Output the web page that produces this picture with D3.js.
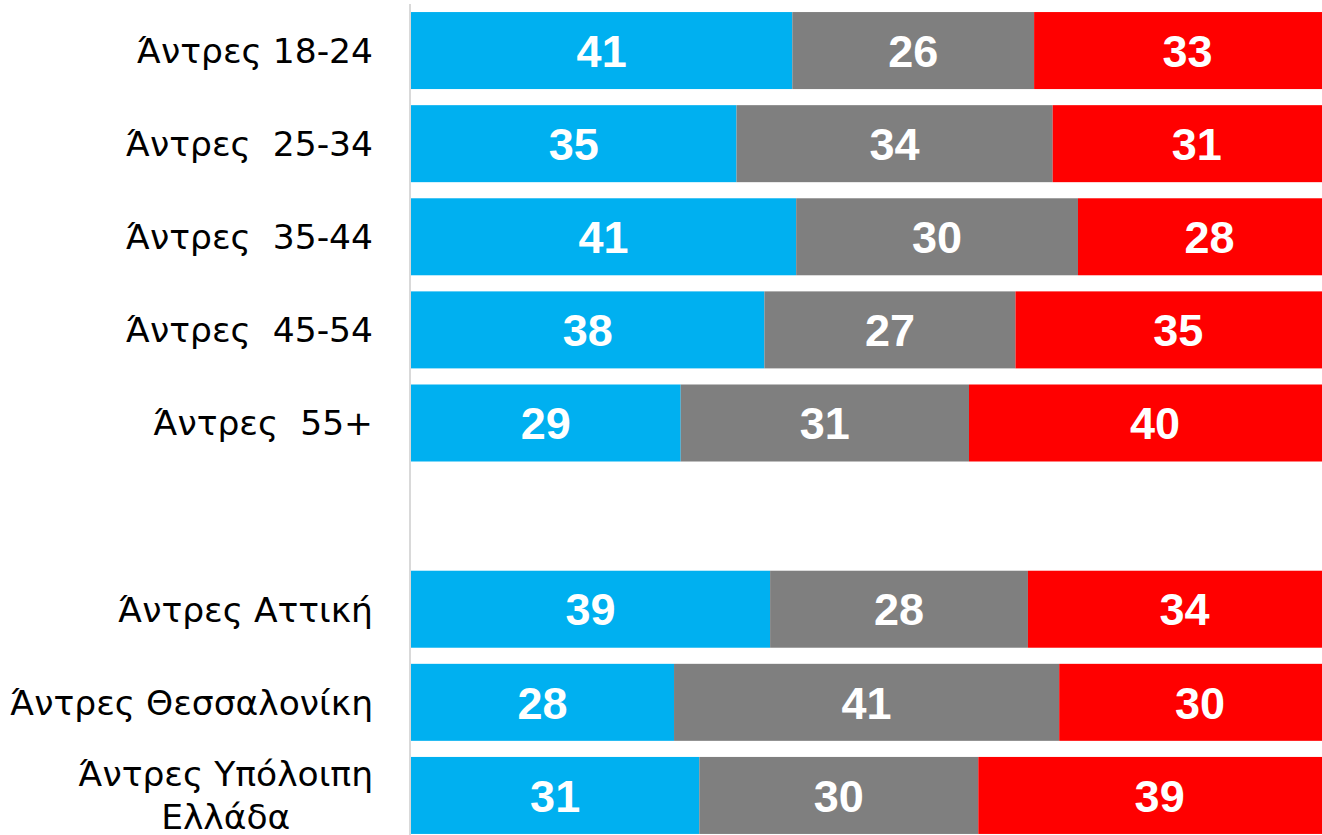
<!DOCTYPE html>
<html>
<head>
<meta charset="utf-8">
<script src="https://cdn.jsdelivr.net/npm/d3@7/dist/d3.min.js"></script>
<style>
  html, body { margin: 0; padding: 0; background: #fff; overflow: hidden; }
  svg { display: block; }
</style>
</head>
<body>
<script>
// ---- data ----
const categories = [
  "Άντρες 18-24",
  "Άντρες  25-34",
  "Άντρες  35-44",
  "Άντρες  45-54",
  "Άντρες  55+",
  "",
  "Άντρες Αττική",
  "Άντρες Θεσσαλονίκη",
  "Άντρες Υπόλοιπη\nΕλλάδα"
];
const seriesBlue = [41, 35, 41, 38, 29, null, 39, 28, 31];
const seriesGray = [26, 34, 30, 27, 31, null, 28, 41, 30];
const seriesRed  = [33, 31, 28, 35, 40, null, 34, 30, 39];
const seriesColors = ["#00B0F0", "#7F7F7F", "#FF0000"];

// ---- layout ----
const W = 1322, H = 835;
const svg = d3.select("body").append("svg").attr("width", W).attr("height", H);

const x = d3.scaleLinear().domain([0, 100]).range([411, 1341]);
const y = d3.scaleBand().domain(d3.range(categories.length))
  .range([4, 842]).paddingInner(0.173).paddingOuter(0.0865);

// build stacked, normalized (100% stacked) rows
const rows = categories.map((c, i) => {
  const vals = [seriesBlue[i], seriesGray[i], seriesRed[i]];
  if (vals[0] == null) return { i, segs: [] };
  const sum = d3.sum(vals);
  let acc = 0;
  const segs = vals.map((v, k) => {
    const s = { k, v, x0: acc / sum * 100, x1: (acc + v) / sum * 100 };
    acc += v;
    return s;
  });
  return { i, segs };
});

const g = svg.append("g");
const rowG = g.selectAll("g.row").data(rows).join("g").attr("class", "row");

rowG.selectAll("rect").data(d => d.segs.map(s => ({ ...s, i: d.i })))
  .join("rect")
  .attr("x", d => x(d.x0))
  .attr("width", d => x(d.x1) - x(d.x0))
  .attr("y", d => y(d.i))
  .attr("height", y.bandwidth())
  .attr("fill", d => seriesColors[d.k]);

rowG.selectAll("text.val").data(d => d.segs.map(s => ({ ...s, i: d.i })))
  .join("text")
  .attr("class", "val")
  .attr("x", d => (x(d.x0) + x(d.x1)) / 2)
  .attr("y", d => y(d.i) + y.bandwidth() / 2)
  .attr("dy", "0.36em")
  .attr("text-anchor", "middle")
  .attr("fill", "#fff")
  .style("font-family", "'Liberation Sans', Arial, sans-serif")
  .style("font-weight", "bold")
  .style("font-size", "45px")
  .text(d => d.v);

// axis line
const yAxis = d3.axisLeft(y).tickSize(0).tickFormat("");
const ax = svg.append("g").attr("transform", "translate(410,0)").call(yAxis);
ax.select(".domain").attr("stroke", "#D9D9D9").attr("stroke-width", 2)
  .attr("d", `M0,${4}V${H}`);

// category labels
const lab = svg.append("g");
categories.forEach((c, i) => {
  if (!c) return;
  const lines = c.split("\n");
  const cy = y(i) + y.bandwidth() / 2;
  const lh = 43;
  const t = lab.append("text")
    .attr("y", cy)
    .attr("fill", "#000")
    .style("font-family", "'DejaVu Sans', sans-serif")
    .style("font-size", "34.5px")
    .style("white-space", "pre");
  lines.forEach((ln, j) => {
    t.append("tspan")
      .attr("x", 0)
      .attr("y", cy + (j - (lines.length - 1) / 2) * lh)
      .attr("dy", "0.36em")
      .attr("text-anchor", "middle")
      .text(ln);
  });
  // right-align the block at x=373, with lines centered within it
  const bb = t.node().getBBox();
  const maxW = bb.width;
  t.selectAll("tspan").attr("x", 373 - maxW / 2);
});
</script>
</body>
</html>
